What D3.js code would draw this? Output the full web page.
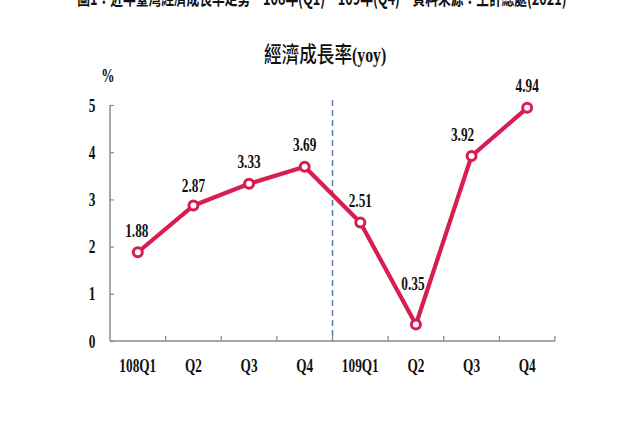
<!DOCTYPE html>
<html><head><meta charset="utf-8">
<script src="https://cdn.jsdelivr.net/npm/d3@7/dist/d3.min.js"></script>
<style>html,body{margin:0;padding:0;background:#fff;overflow:hidden}</style>
</head><body>
<svg id="chart" width="644" height="429"></svg>
<script>
const categories = ["108Q1","Q2","Q3","Q4","109Q1","Q2 ","Q3 ","Q4 "];
const categoryLabels = ["108Q1","Q2","Q3","Q4","109Q1","Q2","Q3","Q4"];
const growth = [1.88, 2.87, 3.33, 3.69, 2.51, 0.35, 3.92, 4.94];
const yTicks = [0, 1, 2, 3, 4, 5];
const title = "經濟成長率";
const titleSuffix = "(yoy)";
const unit = "%";
const topCaption = "圖1：近年臺灣經濟成長率走勢　108年(Q1)－109年(Q4)　資料來源：主計總處(2021)";

const svg = d3.select("#chart");
const serif = "'Liberation Serif','Times New Roman',serif";
const red = "#d81e50";
const axisColor = "#8a8a8a";
const sx = 0.7;

const x = d3.scaleBand().domain(categories).range([110, 555]).padding(0);
const y = d3.scaleLinear().domain([0, 5]).range([341, 105]);

function condText(g, tx, ty, str, size, anchor, weight, family, scale) {
  return g.append("text")
    .attr("transform", `translate(${tx},${ty}) scale(${scale||sx},1)`)
    .attr("text-anchor", anchor || "middle")
    .attr("font-family", family || serif)
    .attr("font-weight", weight || "bold")
    .attr("font-size", size)
    .attr("fill", "#111")
    .text(str);
}

// caption of the page above, cut off at the top edge as in the reference
condText(svg, 322, 5, topCaption, 19, "middle", "bold", "'Noto Sans CJK TC',sans-serif", 0.67);

// title
condText(svg, 352, 62, title, 22, "end", "500", "'Noto Sans CJK TC',sans-serif", 0.8);
condText(svg, 352, 62, titleSuffix, 22, "start", "bold", serif, 0.72);

// unit
condText(svg, 108, 82, unit, 19, "middle");

// y axis
const yAxis = svg.append("g").attr("transform", "translate(110,0)")
  .call(d3.axisRight(y).tickValues(yTicks).tickSize(4).tickFormat(""));
yAxis.select(".domain").attr("stroke", axisColor).attr("stroke-width", 1.5).attr("d", `M0,${y(5)}V${y(0)}`);
yAxis.selectAll(".tick line").attr("stroke", axisColor).attr("stroke-width", 1.2);
yTicks.forEach(t => condText(svg, 92, y(t) + 6.5, String(t), 19, "middle"));

// x axis with boundary ticks
const xAxis = svg.append("g").attr("transform", `translate(0,${y(0)})`)
  .call(d3.axisTop(x).tickSize(0).tickFormat(""));
xAxis.select(".domain").attr("stroke", axisColor).attr("stroke-width", 1.5).attr("d", `M110,0H555`);
categories.forEach(c => {
  xAxis.append("line").attr("x1", x(c) + x.bandwidth()).attr("x2", x(c) + x.bandwidth())
    .attr("y1", 0).attr("y2", -5).attr("stroke", axisColor).attr("stroke-width", 1.2);
});
categories.forEach((c, i) => condText(svg, x(c) + x.bandwidth() / 2, 372, categoryLabels[i], 19, "middle"));

// dashed divider between years
const divX = x(categories[4]);
svg.append("line").attr("x1", divX).attr("x2", divX).attr("y1", y(5) - 5).attr("y2", y(0))
  .attr("stroke", "#5a7a9a").attr("stroke-width", 1.5).attr("stroke-dasharray", "6,4");

// line
const cx = i => x(categories[i]) + x.bandwidth() / 2;
svg.append("path").datum(growth)
  .attr("fill", "none").attr("stroke", red).attr("stroke-width", 4.2).attr("stroke-linejoin", "round")
  .attr("d", d3.line().x((d, i) => cx(i)).y(d => y(d)));

// markers
svg.selectAll("circle.pt").data(growth).join("circle").attr("class", "pt")
  .attr("cx", (d, i) => cx(i)).attr("cy", d => y(d)).attr("r", 4.5)
  .attr("fill", "#fff").attr("stroke", red).attr("stroke-width", 3);

// value labels
growth.forEach((d, i) => {
  let dx = 0, dy = -16;
  if (i === 5) { dx = -3; dy = -34; }
  if (i === 6) { dx = -9; dy = -15; }
  if (i === 0) { dx = -1; dy = -15; }
  if (i === 1) { dy = -14; }
  condText(svg, cx(i) + dx, y(d) + dy, d.toFixed(2), 19, "middle");
});
</script>
</body></html>
